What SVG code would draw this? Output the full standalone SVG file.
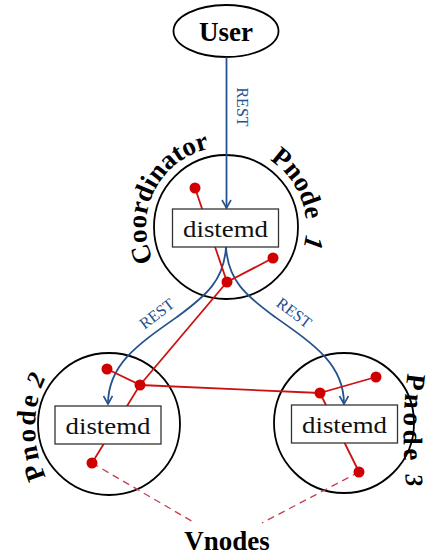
<svg xmlns="http://www.w3.org/2000/svg" width="432" height="555" viewBox="0 0 432 555">
<style>
.lbl{font-family:"Liberation Serif","Times New Roman",serif;font-weight:bold;font-size:27px;fill:#000}
.box{fill:#fff;stroke:#333;stroke-width:1.3}
.btxt{font-family:"Liberation Serif","Times New Roman",serif;font-size:24px;fill:#111;text-anchor:middle}
.ring{fill:none;stroke:#000;stroke-width:1.8}
.rest{fill:none;stroke:#24528f;stroke-width:1.8}
.rtxt{font-family:"Liberation Serif","Times New Roman",serif;font-size:16px;fill:#24528f;text-anchor:middle}
.red{fill:none;stroke:#cc1111;stroke-width:1.8}
.dash{fill:none;stroke:#c4404f;stroke-width:1.3;stroke-dasharray:7 5}
.dot{fill:#d00000}
.dig{font-style:italic}
</style>
<defs>
<marker id="ah" markerWidth="12" markerHeight="12" refX="9" refY="5" orient="auto" markerUnits="userSpaceOnUse">
<path d="M1,0.5 L9,5 L1,9.5" fill="none" stroke="#24528f" stroke-width="1.6"/>
</marker>
<path id="arcCoord" d="M153.5,260.8 A80,80 0 0 1 253.4,151.8"/>
<path id="arcP1" d="M269.6,159.9 A80,80 0 0 1 266,296.3"/>
<path id="arcP2" d="M46,477 A119,119 0 0 1 85.7,329.5"/>
<path id="arcP3" d="M408,371 A470,470 0 0 0 408,500"/>
</defs>

<g id="user">
<ellipse cx="226" cy="31" rx="52.5" ry="26" class="ring"/>
<text x="226" y="41" class="lbl" text-anchor="middle" font-size="26">User</text>
</g>

<g id="pnode1">
<circle cx="226" cy="227" r="72" class="ring"/>
<text class="lbl"><textPath href="#arcCoord">Coordinator</textPath></text>
<text class="lbl"><textPath href="#arcP1">Pnode<tspan class="dig" dx="15">1</tspan></textPath></text>
</g>

<g id="pnode2">
<circle cx="109" cy="424" r="71" class="ring"/>
<text class="lbl" letter-spacing="2.5"><textPath href="#arcP2">Pnode<tspan class="dig" dx="6" font-size="25">2</tspan></textPath></text>
</g>

<g id="pnode3">
<circle cx="344" cy="423" r="70" class="ring"/>
<text class="lbl" font-size="26" letter-spacing="4"><textPath href="#arcP3" startOffset="2">Pnode<tspan class="dig" dx="10" font-size="25">3</tspan></textPath></text>
</g>

<g id="connectors">
<line x1="226.5" y1="57" x2="226.5" y2="208" class="rest" marker-end="url(#ah)"/>
<path d="M226,247 C224,280 207,295 177,317 C137,345 108,365 108,404" class="rest" marker-end="url(#ah)"/>
<path d="M226,247 C228,280 245,295 275,317 C315,345 344,365 344,404" class="rest" marker-end="url(#ah)"/>
<path d="M195,188 L227,282 L273,258" class="red"/>
<line x1="227" y1="282" x2="140" y2="385" class="red"/>
<path d="M107,369 L140,385 L92,463" class="red"/>
<line x1="140" y1="385" x2="320" y2="393" class="red"/>
<path d="M376,377 L320,393 L359,472" class="red"/>
<line x1="92" y1="463" x2="195" y2="523" class="dash"/>
<line x1="359" y1="472" x2="262" y2="523" class="dash"/>
<text class="rtxt" transform="translate(237,107) rotate(90)">REST</text>
<text class="rtxt" y="5" transform="translate(157,314) rotate(-37)">REST</text>
<text class="rtxt" y="5" transform="translate(294,313) rotate(37)">REST</text>
</g>

<g id="distemd1">
<rect x="172.5" y="209" width="106" height="38" class="box"/>
<text x="225.5" y="237" class="btxt" textLength="85" lengthAdjust="spacingAndGlyphs">distemd</text>
</g>
<g id="distemd2">
<rect x="55" y="406" width="106" height="38" class="box"/>
<text x="108" y="434" class="btxt" textLength="85" lengthAdjust="spacingAndGlyphs">distemd</text>
</g>
<g id="distemd3">
<rect x="291.5" y="405" width="106" height="38" class="box"/>
<text x="344.5" y="433" class="btxt" textLength="85" lengthAdjust="spacingAndGlyphs">distemd</text>
</g>

<g id="vnodes">
<circle cx="195" cy="188" r="5.5" class="dot"/>
<circle cx="227" cy="282" r="5.5" class="dot"/>
<circle cx="273" cy="258" r="5.5" class="dot"/>
<circle cx="107" cy="369" r="5.5" class="dot"/>
<circle cx="140" cy="385" r="5.5" class="dot"/>
<circle cx="92" cy="463" r="5.5" class="dot"/>
<circle cx="320" cy="393" r="5.5" class="dot"/>
<circle cx="376" cy="377" r="5.5" class="dot"/>
<circle cx="359" cy="472" r="5.5" class="dot"/>
<text x="227" y="550" class="lbl" text-anchor="middle">Vnodes</text>
</g>
</svg>
